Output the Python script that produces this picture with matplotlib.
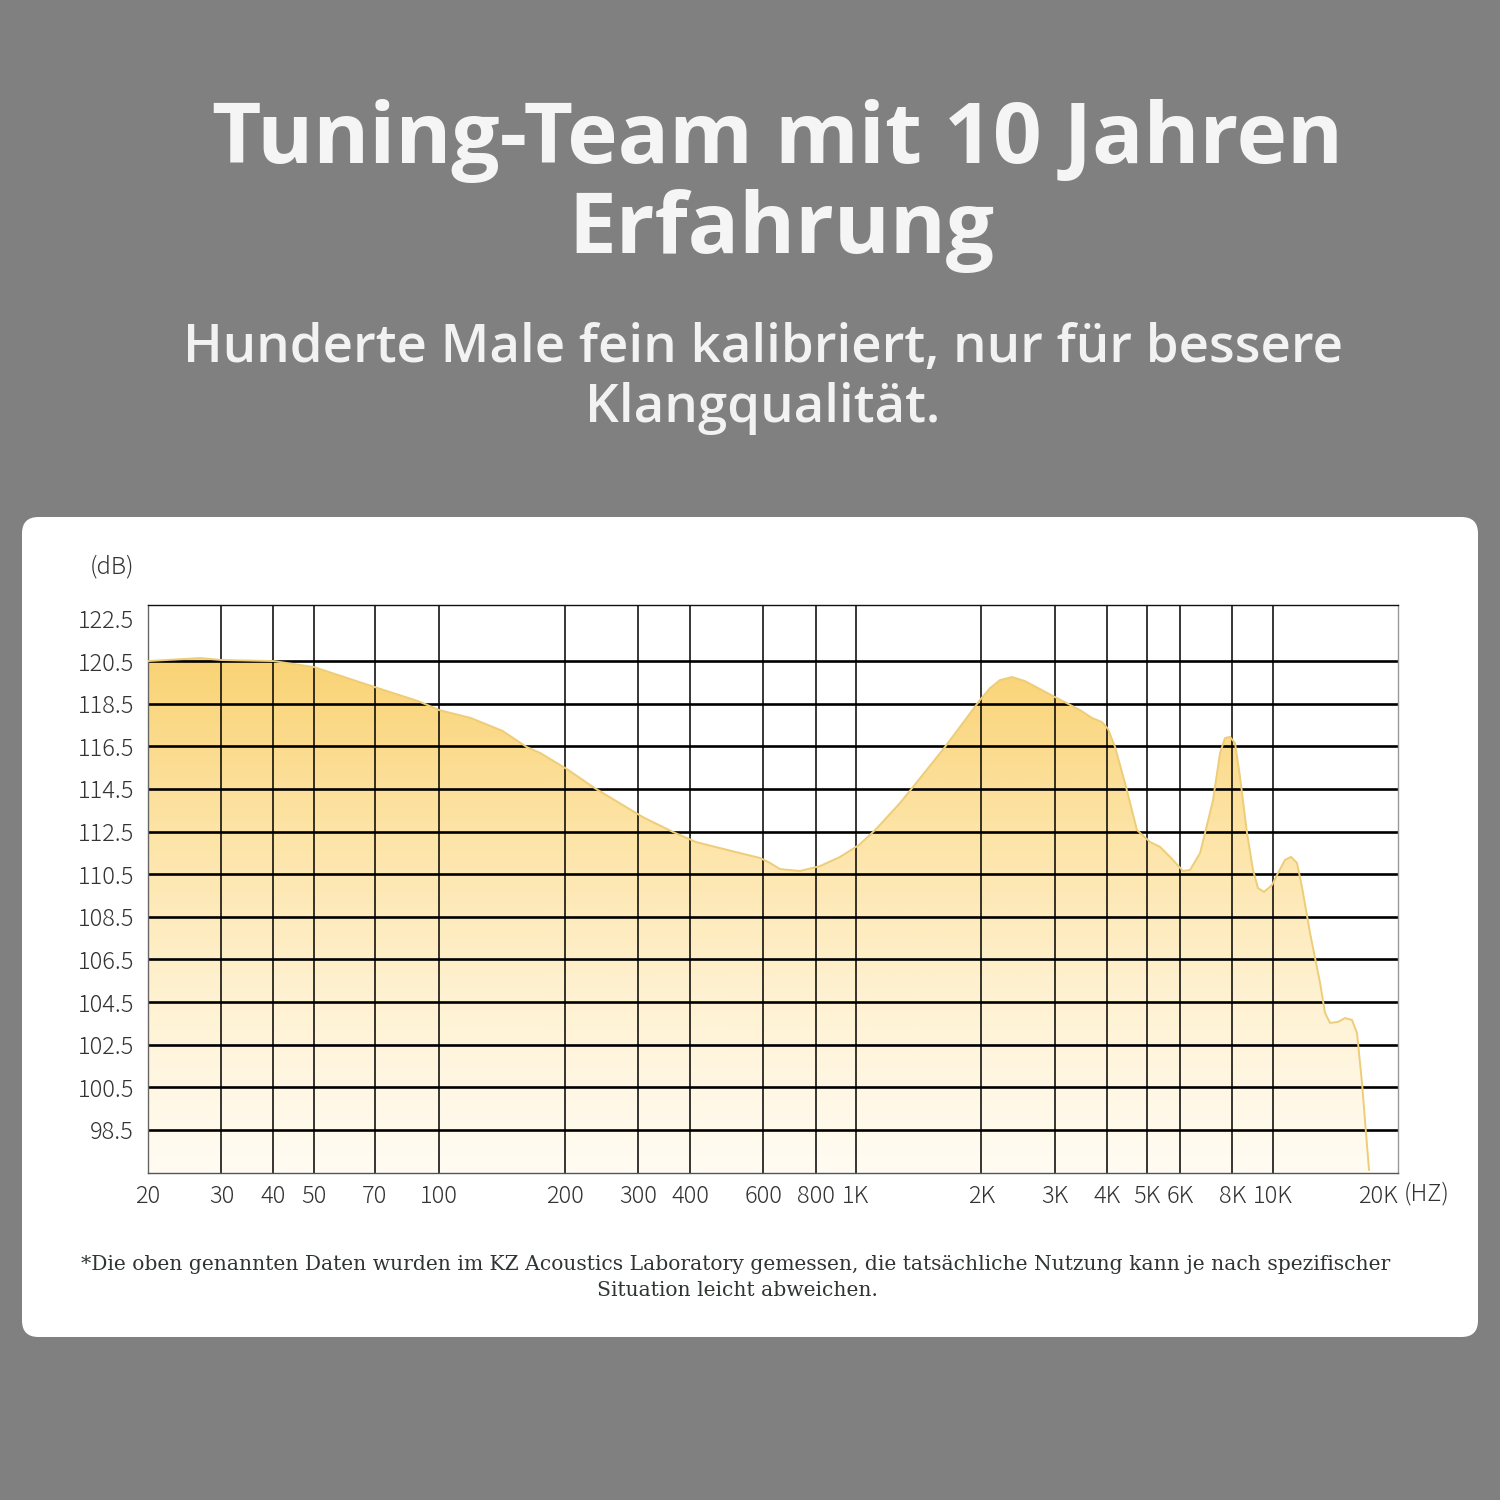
import matplotlib
matplotlib.use("Agg")
import matplotlib.pyplot as plt
import matplotlib.patches as patches
import numpy as np

# frequency response (Hz, dB)
freq = [20, 26.7, 30, 40, 50, 70, 89, 100, 119, 142, 162, 175, 204, 236, 308, 364,
        413, 527, 589, 622, 657, 734, 820, 916, 1017, 1112, 1276, 1371, 1636, 1985,
        2098, 2218, 2370, 2546, 3005, 3450, 3687, 3896, 4027, 4187, 4424, 4727,
        5080, 5370, 5675, 6095, 6337, 6697, 6885, 7196, 7480, 7689, 7904, 8126,
        8354, 8683, 8974, 9226, 9537, 9968, 10304, 10710, 11072, 11444, 11766,
        12300, 13000, 13362, 13738, 14356, 14922, 15510, 15946, 16392, 16758, 17040]
db = [120.50, 120.64, 120.55, 120.50, 120.22, 119.28, 118.62, 118.20, 117.83, 117.22,
      116.47, 116.18, 115.39, 114.54, 113.18, 112.48, 112.01, 111.49, 111.26, 111.03,
      110.74, 110.65, 110.88, 111.31, 111.87, 112.57, 113.84, 114.59, 116.47, 118.67,
      119.23, 119.61, 119.75, 119.56, 118.81, 118.20, 117.83, 117.64, 117.31, 116.47,
      114.78, 112.57, 112.01, 111.78, 111.31, 110.65, 110.70, 111.49, 112.43, 113.98,
      116.18, 116.89, 116.94, 116.65, 115.06, 112.43, 110.70, 109.85, 109.67, 109.99,
      110.55, 111.17, 111.31, 111.03, 109.90, 107.74, 105.40, 103.99, 103.52, 103.57,
      103.75, 103.66, 103.05, 100.71, 98.36, 96.63]

x_ticks = [20, 30, 40, 50, 70, 100, 200, 300, 400, 600, 800, 1000, 2000, 3000,
           4000, 5000, 6000, 8000, 10000, 20000]
x_labels = ["20", "30", "40", "50", "70", "100", "200", "300", "400", "600", "800",
            "1K", "2K", "3K", "4K", "5K", "6K", "8K", "10K", "20K"]
y_ticks = [98.5, 100.5, 102.5, 104.5, 106.5, 108.5, 110.5, 112.5, 114.5, 116.5,
           118.5, 120.5, 122.5]

title_lines = ["Tuning-Team mit 10 Jahren", "Erfahrung"]
subtitle_lines = ["Hunderte Male fein kalibriert, nur für bessere", "Klangqualität."]
note_lines = ["*Die oben genannten Daten wurden im KZ Acoustics Laboratory gemessen, die "
              "tatsächliche Nutzung kann je nach spezifischer",
              "Situation leicht abweichen."]

W = 1500.0
fig = plt.figure(figsize=(15, 15), dpi=100, facecolor="#808080")

# white rounded card
card = patches.FancyBboxPatch((22 / W, 1 - 1337 / W), 1456 / W, 820 / W,
                              boxstyle="round,pad=0,rounding_size=0.011",
                              transform=fig.transFigure, facecolor="white",
                              edgecolor="none", zorder=-5)
fig.patches.append(card)

fig.text(777 / W, 1 - 163 / W, title_lines[0], ha="center", va="baseline",
         fontsize=61.5, fontweight="bold", family="Open Sans", color="#f5f5f5")
fig.text(781 / W, 1 - 253 / W, title_lines[1], ha="center", va="baseline",
         fontsize=61.5, fontweight="bold", family="Open Sans", color="#f5f5f5")
fig.text(763 / W, 1 - 362 / W, subtitle_lines[0],
         ha="center", va="baseline", fontsize=38, fontweight="semibold",
         family="Open Sans", color="#f2f2f2")
fig.text(763 / W, 1 - 422 / W, subtitle_lines[1], ha="center", va="baseline",
         fontsize=38, fontweight="semibold", family="Open Sans", color="#f2f2f2")

ax = fig.add_axes([148 / W, 1 - 1173 / W, 1250 / W, 568 / W])
ax.set_xscale("log")
ax.set_xlim(20, 20000)
ax.set_ylim(96.48, 123.13)
ax.set_facecolor("white")

# gradient fill under the curve
grad = np.linspace(0, 1, 256).reshape(-1, 1)
cmap = matplotlib.colors.LinearSegmentedColormap.from_list(
    "fade", ["#fffcf3", "#fff2d2", "#fde3a4", "#f9d272"])
im = ax.imshow(grad, extent=[20, 20000, 96.48, 121.0], origin="lower",
               cmap=cmap, aspect="auto", zorder=1, interpolation="bilinear")
poly = ax.fill_between(freq, db, 96.48, facecolor="none", edgecolor="none")
im.set_clip_path(poly.get_paths()[0], transform=ax.transData)
ax.plot(freq, db, color="#eecd78", lw=1.4, zorder=3)

ax.set_xlim(20, 20000)
ax.set_ylim(96.48, 123.13)

# grid
ax.hlines(y_ticks[:-1], 20, 20000, colors="black", lw=1.9, zorder=2)
ax.vlines(x_ticks[1:-1], 96.48, 123.13, colors="black", lw=1.1, zorder=2)

ax.set_xticks(x_ticks)
ax.set_xticklabels(x_labels)
ax.xaxis.set_minor_locator(matplotlib.ticker.NullLocator())
ax.set_yticks(y_ticks)
ax.set_yticklabels([f"{v:.1f}" for v in y_ticks])
ax.tick_params(length=0, labelsize=17, labelcolor="#333333")
ax.tick_params(axis="x", pad=8)
ax.tick_params(axis="y", pad=10)
for lab in ax.get_xticklabels() + ax.get_yticklabels():
    lab.set_family(["Noto Sans CJK JP", "DejaVu Sans"])
    lab.set_fontweight("light")
ax.get_xticklabels()[-1].set_horizontalalignment("right")

ax.spines["top"].set_color("#111111")
ax.spines["top"].set_linewidth(1.0)
ax.spines["left"].set_color("#666666")
ax.spines["bottom"].set_color("#555555")
ax.spines["right"].set_color("#999999")
for s in ["left", "bottom", "right"]:
    ax.spines[s].set_linewidth(1.0)

fig.text(90 / W, 1 - 567 / W, "(dB)", ha="left", va="center", fontsize=17,
         color="#333333", family=["Noto Sans CJK JP", "DejaVu Sans"], fontweight="light")
fig.text(1404 / W, 1 - 1194 / W, "(HZ)", ha="left", va="center", fontsize=17,
         color="#333333", family=["Noto Sans CJK JP", "DejaVu Sans"], fontweight="light")

fig.text(736 / W, 1 - 1270 / W, note_lines[0], ha="center", va="baseline", fontsize=14.6,
         family="DejaVu Serif", color="#2f3530")
fig.text(737 / W, 1 - 1296 / W, note_lines[1], ha="center", va="baseline", fontsize=14.6,
         family="DejaVu Serif", color="#2f3530")

fig.savefig("out.png", dpi=100, facecolor=fig.get_facecolor())
